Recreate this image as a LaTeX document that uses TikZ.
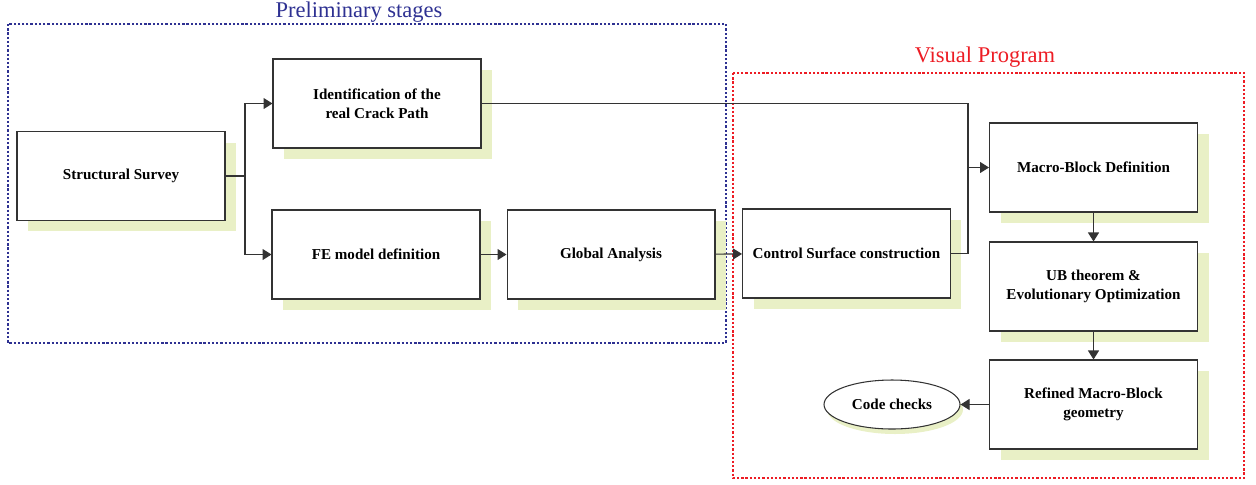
\documentclass[tikz,border=0pt]{standalone}
\usepackage{fontspec}
\setmainfont{Liberation Serif}
\usetikzlibrary{arrows.meta,shapes.geometric,shadows}
\definecolor{shadowgreen}{HTML}{E9F0C6}
\definecolor{prelblue}{HTML}{2E3192}
\definecolor{visred}{HTML}{ED1C24}
\definecolor{boxline}{HTML}{333333}
\tikzset{
    stagebox/.style={draw=boxline, line width=.6pt, fill=white, minimum width=4.16cm, minimum height=1.78cm,
        align=center, font=\fontsize{8.6}{11}\selectfont\bfseries,
        drop shadow={shadow xshift=.22cm, shadow yshift=-.22cm, fill=shadowgreen, opacity=1}},
    checkbox/.style={draw=boxline, line width=.6pt, fill=white, ellipse, minimum width=2.72cm, minimum height=.98cm,
        font=\fontsize{8.6}{11}\selectfont\bfseries,
        drop shadow={shadow xshift=.06cm, shadow yshift=-.1cm, fill=shadowgreen, opacity=1}},
    frame/.style={line width=1.3pt, dash pattern=on 1.3pt off 1.1pt},
    link/.style={draw=boxline, line width=.6pt},
    arr/.style={link, -{Triangle[length=1.8mm,width=2.2mm]}}
}
\begin{document}
\begin{tikzpicture}[x=0.02cm,y=-0.02cm]
    \useasboundingbox (0,0) rectangle (1256,484);

    %% frames
    \draw[frame, prelblue] (8,24) rectangle (726,343);
    \node[text=prelblue, font=\fontsize{12.8}{15}\selectfont] (preltitle) at (359,12) {Preliminary stages};
    \draw[frame, visred] (733,73) rectangle (1244,478);
    \node[text=visred, font=\fontsize{12.8}{15}\selectfont] (vistitle) at (985,57) {Visual Program};

    %% preliminary stages
    \node[stagebox] (survey) at (121,176) {Structural Survey};
    \node[stagebox] (crack) at (377,103.5) {Identification of the\\real Crack Path};
    \node[stagebox] (femodel) at (376,254.5) {FE model definition};
    \node[stagebox] (global) at (611,254.5) {Global Analysis};

    %% visual program
    \node[stagebox] (control) at (846.5,253.5) {Control Surface construction};
    \node[stagebox] (macro) at (1093.5,167.5) {Macro-Block Definition};
    \node[stagebox] (ubopt) at (1093.5,286.5) {UB theorem \&\\Evolutionary Optimization};
    \node[stagebox] (refined) at (1093.5,404.5) {Refined Macro-Block\\geometry};
    \node[checkbox] (checks) at (892,404.5) {Code checks};

    %% connectors
    \coordinate (split) at (245,176);
    \coordinate (join) at (968,167.5);
    \draw[link] (survey.east) -- (split);
        \draw[arr] (split) |- (crack.west);
        \draw[arr] (split) |- (femodel.west);
    \draw[arr] (femodel) -- (global);
    \draw[arr] (global) -- (control);
    \draw[link] (crack.east) -| (join);
    \draw[link] (control.east) -| (join);
        \draw[arr] (join) -- (macro.west);
    \draw[arr] (macro) -- (ubopt);
    \draw[arr] (ubopt) -- (refined);
    \draw[arr] (refined) -- (checks);

\end{tikzpicture}
\end{document}
